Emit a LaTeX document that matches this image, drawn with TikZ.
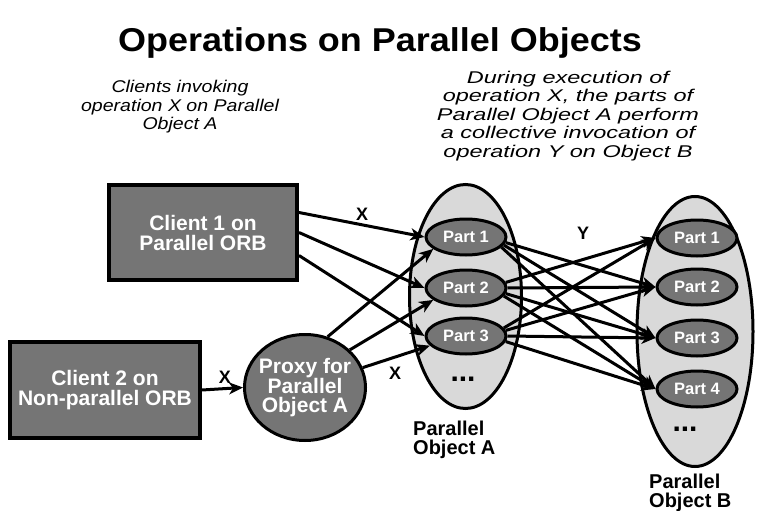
\documentclass[tikz,border=0pt]{standalone}
\usepackage{fontspec}
\setsansfont{Liberation Sans}
\newfontfamily\titlefont{Liberation Sans}[UprightFont={* Bold},FakeStretch=1.09]
\newfontfamily\notefont{Liberation Sans}[UprightFont={* Italic},FakeStretch=1.38]
\newfontfamily\leftnotefont{Liberation Sans}[UprightFont={* Italic},FakeStretch=1.15]
\usetikzlibrary{shapes.geometric, arrows.meta}
\definecolor{darkfill}{gray}{0.46}
\definecolor{lightfill}{gray}{0.85}
\tikzset{
    >={Stealth[length=14pt,width=12pt,inset=4pt]}, % Wide arrowheads
    arr/.style={->, line width=3pt},
    box/.style={draw, line width=4pt, fill=darkfill, text=white, inner sep=2pt,
        align=center, font={\sffamily\bfseries\fontsize{21}{20}\selectfont}},
    part/.style={ellipse, draw, line width=3pt, fill=darkfill, text=white,
        minimum width=80pt, minimum height=36pt, inner sep=0pt,
        font={\sffamily\bfseries\fontsize{16.5}{16.5}\selectfont}},
    group/.style={ellipse, draw, line width=3pt, fill=lightfill},
    note/.style={align=center, font={\notefont\fontsize{17}{18.5}\selectfont}},
    lbl/.style={font={\sffamily\bfseries\fontsize{18}{18}\selectfont}},
    caption/.style={align=left, anchor=west, inner sep=0pt,
        font={\sffamily\bfseries\fontsize{20}{18.5}\selectfont}},
    dots/.style={anchor=base, inner sep=0pt, font={\sffamily\bfseries\fontsize{30}{30}\selectfont}},
}

\begin{document}
\begin{tikzpicture}[x=1pt, y=-1pt]
  \useasboundingbox (0,0) rectangle (761,511);

  \node[anchor=base, font={\titlefont\fontsize{33}{33}\selectfont}] (title) at (380,52) {Operations on Parallel Objects};
  \node[align=center, font={\leftnotefont\fontsize{17}{18.5}\selectfont}] (left note) at (180,107) {Clients invoking\\operation X on Parallel\\Object A};
  \node[note] (right note) at (568,116) {During execution of\\operation X, the parts of\\Parallel Object A perform\\a collective invocation of\\operation Y on Object B};

  \node[box, minimum width=188pt, minimum height=95pt] (c1) at (203,232.5) {Client 1 on\\Parallel ORB};
  \node[box, minimum width=190pt, minimum height=96pt] (c2) at (105,390) {Client 2 on\\Non-parallel ORB};
  \node[ellipse, draw, line width=3pt, fill=darkfill, text=white, inner xsep=-8pt, inner ysep=0pt,
    minimum width=121pt, minimum height=106pt, align=center,
    font={\sffamily\bfseries\fontsize{21}{19}\selectfont}] (proxy) at (305,387.5) {Proxy for\\Parallel\\Object A};

  \node[group, minimum width=112pt, minimum height=224pt] (objA) at (465.5,296.5) {};
  \node[group, minimum width=116pt, minimum height=270pt] (objB) at (695,331.5) {};

  \node[part] (a1) at (466,237) {Part 1};
  \node[part] (a2) at (466,288) {Part 2};
  \node[part] (a3) at (466,336) {Part 3};
  \node[dots] (a dots) at (463,381) {...};

  \node[part] (b1) at (697,238) {Part 1};
  \node[part] (b2) at (697,287) {Part 2};
  \node[part] (b3) at (697,338) {Part 3};
  \node[part] (b4) at (697,389) {Part 4};
  \node[dots] (b dots) at (685,431) {...};

  \node[caption] (capA) at (413,440) {Parallel\\Object A};
  \node[caption] (capB) at (649,493) {Parallel\\Object B};

  \draw[arr] ([yshift=20]c1.east) -- (a1.west);
  \draw[arr] (c1.east) -- (a2.west);
  \draw[arr] ([yshift=-23]c1.east) -- (a3.west);
  \node[lbl] (x1) at (362,214) {X};

  \draw[arr] (c2.east) -- (proxy.west);
  \node[lbl] (x2) at (225,377) {X};

  \draw[arr] (proxy.66) -- (a1.200);
  \draw[arr] (proxy.40) -- (a2.200);
  \draw[arr] (proxy.19) -- (a3.195);
  \node[lbl] (x3) at (395,373) {X};

  \draw[arr] (a1.-8) -- (b2.west);
  \draw[arr] (a1.-12) -- (b3.west);
  \draw[arr] (a1.-16) -- (b4.west);
  \draw[arr] (a2.8) -- (b1.west);
  \draw[arr] (a2.east) -- (b2.west);
  \draw[arr] (a2.-8) -- (b3.west);
  \draw[arr] (a2.-12) -- (b4.west);
  \draw[arr] (a3.12) -- (b1.west);
  \draw[arr] (a3.8) -- (b2.west);
  \draw[arr] (a3.east) -- (b3.west);
  \draw[arr] (a3.-8) -- (b4.west);
  \node[lbl] (y) at (583,233) {Y};
\end{tikzpicture}
\end{document}
